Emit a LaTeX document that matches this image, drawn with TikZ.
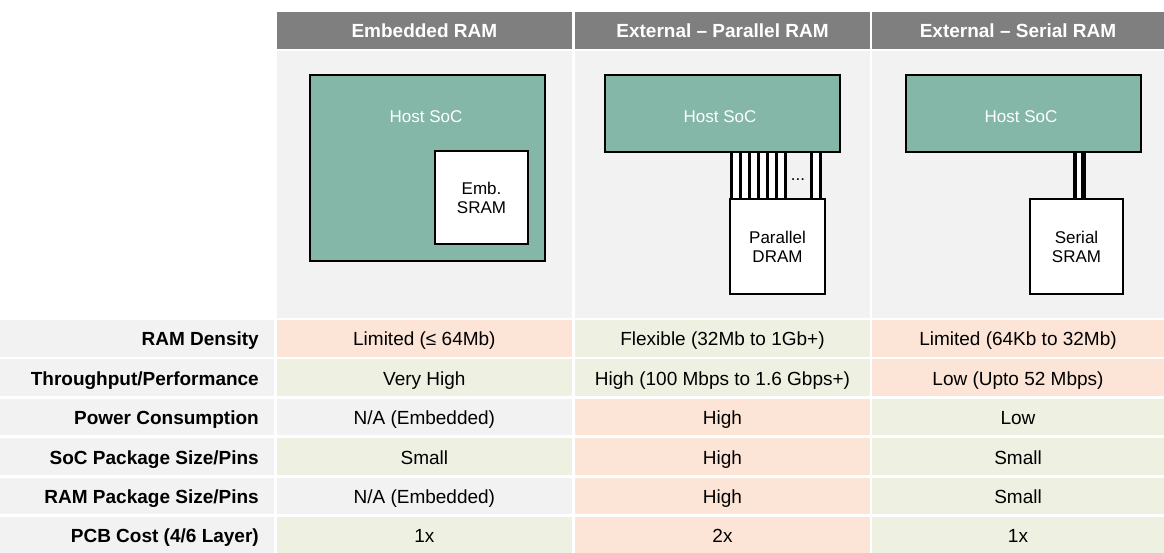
\documentclass[tikz,border=0pt]{standalone}
\usepackage{fontspec}
\setmainfont{Liberation Sans}

\definecolor{hdr}{RGB}{127,127,127}
\definecolor{panel}{RGB}{242,242,242}
\definecolor{bad}{RGB}{252,228,214}
\definecolor{good}{RGB}{238,241,226}
\definecolor{soc}{RGB}{132,183,167}

% one row of the comparison table: index, label, then colour/text for each column
\newcommand\tablerow[8]{%
  \pgfmathsetmacro\rowy{338.3+39.4*(#1-1)}
  \node[rowcell, fill=panel, minimum width=274pt] (lab#1) at (137,\rowy) {};
  \node[rowlabel] (labtext#1) at (259,\rowy) {#2};
  \node[rowcell, fill=#3, minimum width=295.3pt] (a#1) at (424.35,\rowy) {#4};
  \node[rowcell, fill=#5, minimum width=295pt] (b#1) at (722.5,\rowy) {#6};
  \node[rowcell, fill=#7, minimum width=292pt] (c#1) at (1018,\rowy) {#8};
}

\begin{document}
\begin{tikzpicture}[x=1pt, y=-1pt,
  tablefont/.style={font=\fontsize{19}{22}\selectfont},
  boxfont/.style={font=\fontsize{17}{20}\selectfont},
  hdrcell/.style={rectangle, fill=hdr, inner sep=0, minimum height=37.2pt,
    text=white, font=\bfseries\fontsize{19}{22}\selectfont,
    text height=15pt, text depth=0pt},
  panelcell/.style={rectangle, fill=panel, inner sep=0, minimum height=267.3pt},
  rowcell/.style={rectangle, inner sep=0, minimum height=36.6pt, tablefont,
    text height=15pt, text depth=0pt},
  rowlabel/.style={anchor=east, inner sep=0, font=\bfseries\fontsize{19}{22}\selectfont,
    text height=15pt, text depth=0pt},
  socbox/.style={rectangle, draw=black, line width=2pt, fill=soc, inner sep=0},
  rambox/.style={rectangle, draw=black, line width=2pt, fill=white, inner sep=0,
    align=center, boxfont},
  soclabel/.style={inner sep=0, text=white, boxfont},
  wire/.style={line width=3pt},
  serialwire/.style={line width=4.4pt}
]
\useasboundingbox (0,0) rectangle (1164,552);

% column headers
\node[hdrcell, minimum width=295.3pt] (h1) at (424.35,30.1) {Embedded RAM};
\node[hdrcell, minimum width=295pt]   (h2) at (722.5,30.1)  {External – Parallel RAM};
\node[hdrcell, minimum width=292pt]   (h3) at (1018,30.1)   {External – Serial RAM};

% picture panels
\node[panelcell, minimum width=295.3pt] (p1) at (424.35,184.35) {};
\node[panelcell, minimum width=295pt]   (p2) at (722.5,184.35)  {};
\node[panelcell, minimum width=292pt]   (p3) at (1018,184.35)   {};

% embedded RAM: memory inside the SoC
\node[socbox, minimum width=235pt, minimum height=186pt] (soc1) at (427.5,168) {};
\node[soclabel] (soc1t) at (426,116.5) {Host SoC};
\node[rambox, minimum width=93pt, minimum height=93pt] (emb) at (481.5,197.5)
  {Emb.\\[-1pt]SRAM};

% external parallel RAM: wide bus
\node[socbox, minimum width=235pt, minimum height=77pt] (soc2) at (722.5,113.5) {};
\node[soclabel] (soc2t) at (720,116.5) {Host SoC};
\node[rambox, minimum width=95pt, minimum height=95pt] (dram) at (777.5,246.5)
  {Parallel\\[-1pt]DRAM};
\fill[white] (731,0 |- soc2.south) rectangle (785,0 |- dram.north);
\fill[white] (811,0 |- soc2.south) rectangle (820,0 |- dram.north);
\foreach \x in {731,740,749,758,767,776,785,811,820}
  \draw[wire] (\x,0 |- soc2.south) -- (\x,0 |- dram.north);
\node[inner sep=0, anchor=base, boxfont] (dots) at (798,180) {...};

% external serial RAM: two-wire link
\node[socbox, minimum width=235pt, minimum height=77pt] (soc3) at (1023.5,113.5) {};
\node[soclabel] (soc3t) at (1021,116.5) {Host SoC};
\node[rambox, minimum width=93pt, minimum height=95pt] (sram) at (1076.5,246.5)
  {Serial\\[-1pt]SRAM};
\fill[white] (1075,0 |- soc3.south) rectangle (1083.3,0 |- sram.north);
\draw[serialwire] (1075,0 |- soc3.south) -- (1075,0 |- sram.north);
\draw[serialwire] (1083.3,0 |- soc3.south) -- (1083.3,0 |- sram.north);

% comparison table
\tablerow{1}{RAM Density}{bad}{Limited (≤ 64Mb)}{good}{Flexible (32Mb to 1Gb+)}{bad}{Limited (64Kb to 32Mb)}
\tablerow{2}{Throughput/Performance}{good}{Very High}{good}{High (100 Mbps to 1.6 Gbps+)}{bad}{Low (Upto 52 Mbps)}
\tablerow{3}{Power Consumption}{panel}{N/A (Embedded)}{bad}{High}{good}{Low}
\tablerow{4}{SoC Package Size/Pins}{good}{Small}{bad}{High}{good}{Small}
\tablerow{5}{RAM Package Size/Pins}{panel}{N/A (Embedded)}{bad}{High}{good}{Small}
\tablerow{6}{PCB Cost (4/6 Layer)}{good}{1x}{bad}{2x}{good}{1x}
\end{tikzpicture}
\end{document}
